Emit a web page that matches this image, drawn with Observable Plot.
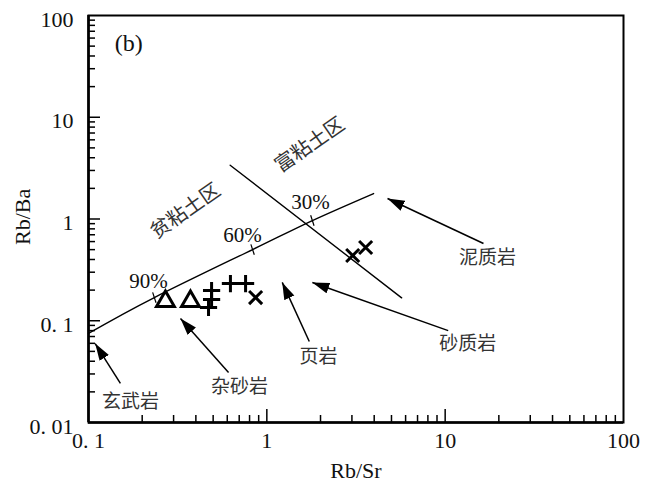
<!DOCTYPE html>
<html>
<head>
<meta charset="utf-8">
<script src="https://cdn.jsdelivr.net/npm/d3@7"></script>
<script src="https://cdn.jsdelivr.net/npm/@observablehq/plot@0.6"></script>
<style>
  html, body { margin: 0; padding: 0; background: #fff; }
  #chart svg { display: block; }
</style>
</head>
<body>
<div id="chart"></div>
<script>
// Rb/Sr vs Rb/Ba discrimination diagram (b)

// Greywacke samples (triangles)
const greywackeX = [0.270, 0.373];
const greywackeY = [0.155, 0.155];
// Samples drawn as "+"
const plusX = [0.490, 0.490, 0.471, 0.625, 0.760];
const plusY = [0.198, 0.162, 0.135, 0.232, 0.232];
// Samples drawn as "x"
const timesX = [0.865, 3.03, 3.58];
const timesY = [0.169, 0.438, 0.525];

// Clay-mixing curve
const curveX = [0.1, 0.234, 0.832, 1.80, 3.97];
const curveY = [0.075, 0.169, 0.501, 0.966, 1.78];
// Percentage marks on the curve
const pctX = [0.234, 0.832, 1.80];
const pctY = [0.169, 0.501, 0.966];
const pctText = ["90%", "60%", "30%"];
const pctLabelX = [0.217, 0.731, 1.76];
const pctLabelY = [0.243, 0.689, 1.45];

// Boundary between clay-poor and clay-rich fields
const divideX = [0.623, 5.70];
const divideY = [3.38, 0.168];

// Field labels
const zoneText = ["贫粘土区", "富粘土区"];
const zoneX = [0.35, 1.74];
const zoneY = [1.20, 5.35];

// Rock-type annotations: label, label position, arrow tail and head
const rockText = ["泥质岩", "砂质岩", "页岩", "杂砂岩", "玄武岩"];
const rockLabelX = [17.3, 13.4, 1.95, 0.703, 0.172];
const rockLabelY = [0.419, 0.0597, 0.0446, 0.0226, 0.0161];
const tailX = [16.4, 10.4, 1.73, 0.610, 0.151];
const tailY = [0.574, 0.080, 0.0625, 0.031, 0.0242];
const headX = [4.75, 1.80, 1.22, 0.328, 0.109];
const headY = [1.59, 0.238, 0.238, 0.105, 0.0597];

// Axes
const xTicks = [0.1, 1, 10, 100];
const xTickLabels = ["0. 1", "1", "10", "100"];
const yTicks = [0.01, 0.1, 1, 10, 100];
const yTickLabels = ["0. 01", "0. 1", "1", "10", "100"];

const W = 646, H = 489;
const mL = 88, mR = 23, mT = 15, mB = 67;
const plotW = W - mL - mR, plotH = H - mT - mB;

const rows = (xs, ys) => xs.map((x, i) => ({x, y: ys[i]}));
const greywacke = rows(greywackeX, greywackeY);
const plusPts = rows(plusX, plusY);
const timesPts = rows(timesX, timesY);
const curve = rows(curveX, curveY);
const pctMarks = rows(pctX, pctY);
const pctLabels = pctText.map((t, i) => ({t, x: pctLabelX[i], y: pctLabelY[i]}));
const divide = rows(divideX, divideY);
const zones = zoneText.map((t, i) => ({t, x: zoneX[i], y: zoneY[i]}));
const rockLabels = rockText.map((t, i) => ({t, x: rockLabelX[i], y: rockLabelY[i]}));
const arrows = rockText.map((t, i) => ({x1: tailX[i], y1: tailY[i], x2: headX[i], y2: headY[i]}));
const xLabels = xTicks.map((v, i) => ({v, t: xTickLabels[i]}));
const yLabels = yTicks.map((v, i) => ({v, t: yTickLabels[i]}));

// minor log ticks for each decade
const minors = (lo, hi) => {
  const out = [];
  for (let d = lo; d < hi; d *= 10) for (let k = 2; k <= 9; k++) out.push(+(k * d).toPrecision(3));
  return out;
};
const xMinor = minors(0.1, 100);
const yMinor = minors(0.01, 100);

// short slanted tick crossing the mixing curve
const curveTick = {
  draw(ctx) {
    const h = 5.5, a = 18 * Math.PI / 180;
    ctx.moveTo(-h * Math.sin(a), -h * Math.cos(a));
    ctx.lineTo(h * Math.sin(a), h * Math.cos(a));
  }
};

// filled triangular arrowhead
function filledHead(color) {
  const m = d3.create("svg:marker")
    .attr("viewBox", "-17 -6 18 12")
    .attr("markerWidth", 18)
    .attr("markerHeight", 12)
    .attr("markerUnits", "userSpaceOnUse")
    .attr("orient", "auto");
  m.append("path").attr("d", "M0,0L-17,-5.5L-17,5.5Z").attr("fill", color).attr("stroke", "none");
  return m.node();
}

const serif = "'Liberation Serif', 'Times New Roman', serif";
const cjk = "'Noto Sans CJK SC', sans-serif";

const chart = Plot.plot({
  width: W,
  height: H,
  marginLeft: mL,
  marginRight: mR,
  marginTop: mT,
  marginBottom: mB,
  style: {background: "#fff", color: "#000", overflow: "visible"},
  x: {type: "log", domain: [0.1, 100], axis: null},
  y: {type: "log", domain: [0.01, 100], axis: null},
  marks: [
    // tick labels and titles
    Plot.text(xLabels, {x: "v", text: "t", frameAnchor: "bottom", lineAnchor: "top", dy: 10,
      fontSize: 22, fontFamily: serif, letterSpacing: 2.5, fill: "#111"}),
    Plot.text(yLabels, {y: "v", text: "t", frameAnchor: "left", textAnchor: "end", dx: -15, dy: 4,
      fontSize: 22, fontFamily: serif, letterSpacing: 2.5, fill: "#111"}),
    Plot.text(["Rb/Sr"], {frameAnchor: "bottom", dy: 55, fontSize: 22, fontFamily: serif, letterSpacing: 3, fill: "#111"}),
    Plot.text(["Rb/Ba"], {frameAnchor: "left", dx: -66, dy: 26, rotate: -90, fontSize: 22, fontFamily: serif, letterSpacing: 3, fill: "#111"}),

    // inward ticks
    Plot.tickY(yMinor, {insetRight: plotW - 7, strokeWidth: 1.5}),
    Plot.tickY([0.1, 1, 10], {insetRight: plotW - 12, strokeWidth: 1.5}),
    Plot.tickX(xMinor, {insetTop: plotH - 7, strokeWidth: 1.5}),
    Plot.tickX([1, 10], {insetTop: plotH - 13, strokeWidth: 1.5}),

    // mixing curve and field boundary
    Plot.line(curve, {x: "x", y: "y", curve: "natural", strokeWidth: 1.4}),
    Plot.dot(pctMarks, {x: "x", y: "y", symbol: curveTick, r: 4, stroke: "black", strokeWidth: 1.2, fill: "none"}),
    Plot.text(pctLabels, {x: "x", y: "y", text: "t", fontSize: 21, fontFamily: serif, fill: "#111"}),
    Plot.line(divide, {x: "x", y: "y", strokeWidth: 1.4}),
    Plot.text(zones, {x: "x", y: "y", text: "t", rotate: -35, fontSize: 20, fontFamily: cjk, letterSpacing: 4, fill: "#333"}),

    // arrows and rock-type labels
    Plot.link(arrows, {x1: "x1", y1: "y1", x2: "x2", y2: "y2", strokeWidth: 1.5, markerEnd: filledHead}),
    Plot.text(rockLabels, {x: "x", y: "y", text: "t", fontSize: 19, fontFamily: cjk, letterSpacing: 5, fill: "#333"}),

    // samples
    Plot.dot(greywacke, {x: "x", y: "y", symbol: "triangle2", r: 8.5, stroke: "black", strokeWidth: 3, fill: "none"}),
    Plot.dot(plusPts, {x: "x", y: "y", symbol: "plus", r: 5.6, stroke: "black", strokeWidth: 3}),
    Plot.dot(timesPts, {x: "x", y: "y", symbol: "times", r: 6, stroke: "black", strokeWidth: 3}),

    Plot.text(["(b)"], {x: 0.168, y: 53, fontSize: 24, fontFamily: serif, letterSpacing: 4, fill: "#111"}),
    Plot.frame({stroke: "black", strokeWidth: 2}),
    Plot.ruleX([0.1], {strokeWidth: 2.6}),
    Plot.ruleY([0.01], {strokeWidth: 2.6})
  ]
});

document.getElementById("chart").appendChild(chart);
</script>
</body>
</html>
